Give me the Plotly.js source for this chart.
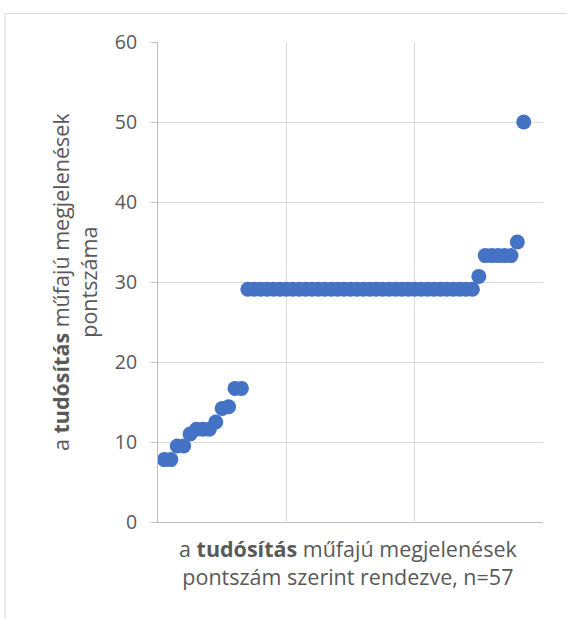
<!DOCTYPE html>
<html>
<head>
<meta charset="utf-8">
<script src="https://cdn.plot.ly/plotly-3.0.1.min.js"></script>
<style>html,body{margin:0;padding:0;background:#fff;}#chart{width:567px;height:619px;}</style>
</head>
<body>
<div id="chart"></div>
<script>
// Rank (1..57) of each appearance, sorted by score
const ranks = Array.from({length: 57}, (_, i) => i + 1);
// Scores
const scores = [
  7.8, 7.8, 9.5, 9.5, 11.0, 11.6, 11.6, 11.6, 12.5, 14.2, 14.4, 16.7, 16.7,
  29.1, 29.1, 29.1, 29.1, 29.1, 29.1, 29.1, 29.1, 29.1, 29.1, 29.1, 29.1,
  29.1, 29.1, 29.1, 29.1, 29.1, 29.1, 29.1, 29.1, 29.1, 29.1, 29.1, 29.1,
  29.1, 29.1, 29.1, 29.1, 29.1, 29.1, 29.1, 29.1, 29.1, 29.1, 29.1, 29.1,
  30.7, 33.3, 33.3, 33.3, 33.3, 33.3, 35.0, 50.0
];
const xTitle = "a <b>tudósítás</b> műfajú megjelenések<br>pontszám szerint rendezve, n=57";
const yTitle = "a <b>tudósítás</b> műfajú megjelenések<br>pontszáma";

const FONT = "'Open Sans', 'Liberation Sans', sans-serif";
const trace = {
  x: ranks, y: scores, type: 'scatter', mode: 'markers',
  marker: {color: '#4472C4', size: 15, line: {width: 0}},
  hoverinfo: 'x+y'
};
const layout = {
  width: 567, height: 619,
  margin: {l: 158, r: 24, t: 42, b: 97, pad: 0},
  paper_bgcolor: '#fff', plot_bgcolor: '#fff',
  showlegend: false,
  font: {family: FONT, color: '#595959'},
  xaxis: {
    range: [0, 60], dtick: 20, tick0: 0, showticklabels: false,
    showgrid: true, gridcolor: '#d9d9d9', gridwidth: 1,
    zeroline: false, showline: true, linecolor: '#bfbfbf', linewidth: 1,
    ticks: '', fixedrange: true
  },
  yaxis: {
    range: [0, 60], dtick: 10, tick0: 0,
    showgrid: true, gridcolor: '#d9d9d9', gridwidth: 1,
    zeroline: false, showline: true, linecolor: '#bfbfbf', linewidth: 1,
    ticks: 'outside', ticklen: 6, tickcolor: '#bfbfbf',
    tickfont: {family: FONT, size: 19.5, color: '#595959'},
    ticklabelstandoff: 10, fixedrange: true
  },
  annotations: [
    {text: xTitle, xref: 'paper', yref: 'paper', x: 0.4935, y: -0.0854,
     xanchor: 'center', yanchor: 'middle', showarrow: false, align: 'center',
     font: {family: FONT, size: 21.5, color: '#595959'}},
    {text: yTitle, xref: 'paper', yref: 'paper', x: -0.218, y: 0.5,
     xanchor: 'center', yanchor: 'middle', showarrow: false, align: 'center',
     textangle: -90, font: {family: FONT, size: 21.5, color: '#595959'}}
  ],
  shapes: [
    {type: 'rect', xref: 'paper', yref: 'paper', x0: -0.3974, x1: 1.2, y0: -0.3, y1: 1.0594,
     line: {color: '#d9d9d9', width: 1}, fillcolor: 'rgba(0,0,0,0)', layer: 'below'}
  ]
};
Plotly.newPlot('chart', [trace], layout, {displayModeBar: false, staticPlot: true});
</script>
</body>
</html>
